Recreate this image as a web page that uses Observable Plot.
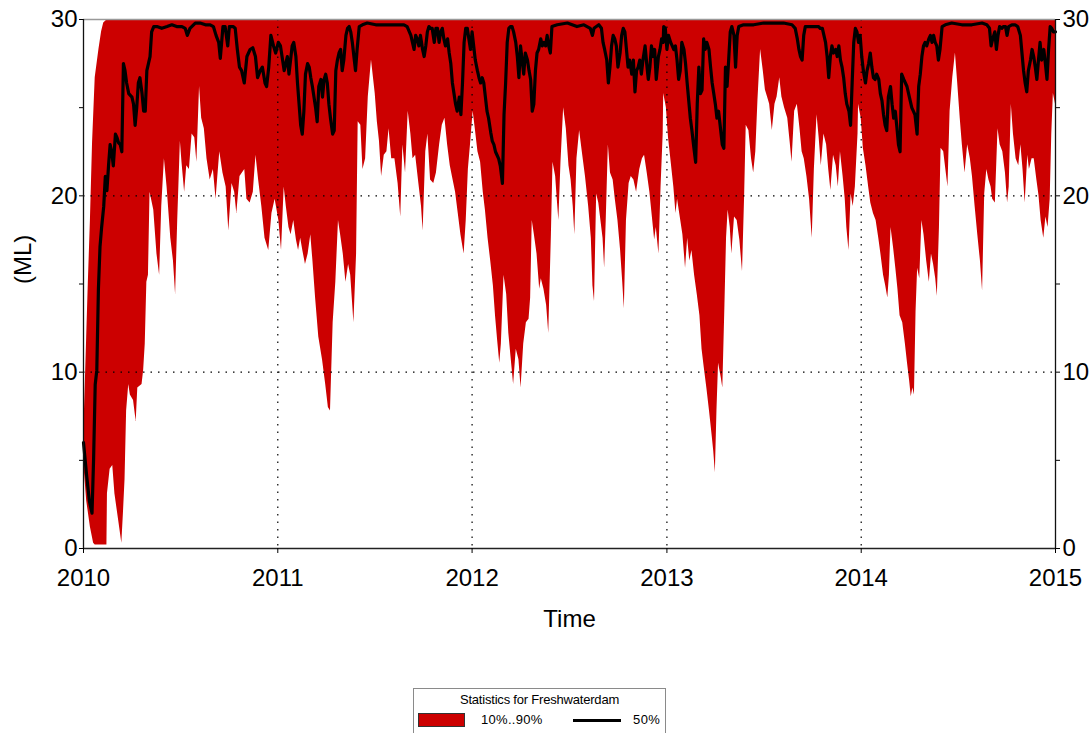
<!DOCTYPE html>
<html>
<head>
<meta charset="utf-8">
<script src="https://cdn.jsdelivr.net/npm/d3@7"></script>
<script src="https://cdn.jsdelivr.net/npm/@observablehq/plot@0.6"></script>
<style>
  html, body { margin: 0; padding: 0; background: #fff; }
  #wrap { position: relative; width: 1090px; height: 733px; overflow: hidden; font-family: "Liberation Sans", Arial, sans-serif; }
  #legend { position: absolute; left: 413px; top: 688px; width: 251px; height: 52px; border: 1px solid #8a8a8a; background: #fff; }
  #legend .title { position: absolute; left: 0; width: 100%; top: 3px; text-align: center; font-size: 13px; letter-spacing: -0.2px; color: #000; }
  #legend .sw { position: absolute; left: 4px; top: 24px; width: 47px; height: 14px; background: #cc0000; border: 1px solid #333; box-sizing: border-box; }
  #legend .l1 { position: absolute; left: 67px; top: 23px; font-size: 13px; letter-spacing: 0.3px; color: #000; }
  #legend .ln { position: absolute; left: 159px; top: 30px; width: 48px; height: 3px; background: #000; }
  #legend .l2 { position: absolute; left: 219px; top: 23px; font-size: 13px; letter-spacing: 0.4px; color: #000; }
</style>
</head>
<body>
<div id="wrap">
  <div id="chart"></div>
  <div id="legend">
    <div class="title">Statistics for Freshwaterdam</div>
    <div class="sw"></div><div class="l1">10%..90%</div>
    <div class="ln"></div><div class="l2">50%</div>
  </div>
</div>
<script>
// Days since 2010-01-01, value in ML
const bandUpper = [[0,6.2],[2,8],[4,10],[6,12],[9,15],[13,18.6],[17,23],[22,26.7],[29,28.3],[34,29.3],[38,29.8],[45,30],[1826,30]];

const bandLower = [
[0,5.0],[6,2.7],[13,1.2],[19,0.3],[22,0.2],[44,0.2],[45,3.1],[50,4.5],[55,4.7],[59,3.1],[66,1.6],[72,0.3],[75,2.0],[78,3.9],[81,7.8],[85,9.3],[88,8.7],[94,8.4],[99,7.2],[102,9.1],[110,9.3],[113,10.1],[116,11.6],[119,15.1],[122,15.5],[125,20.2],[132,19.2],[138,16.7],[143,15.5],[147,19.4],[152,22.1],[157,20.5],[164,17.6],[169,16.3],[173,14.4],[177,18.6],[182,23.1],[185,21.9],[190,20.2],[194,21.7],[199,21.5],[204,23.5],[209,23.3],[213,21.9],[218,26.2],[222,24.4],[227,23.8],[232,22.1],[238,20.9],[244,21.5],[249,19.8],[256,22.5],[262,21.3],[268,20.5],[273,18.0],[279,20.7],[284,20.2],[288,19.0],[294,21.1],[303,21.5],[307,19.8],[313,19.6],[319,20.2],[324,22.3],[329,20.9],[335,19.4],[341,17.6],[348,16.9],[354,19.0],[360,19.8],
[367,18.6],[372,16.9],[377,20.5],[381,19.4],[386,18.2],[390,17.8],[395,18.6],[400,17.5],[404,16.9],[408,17.6],[412,16.9],[417,16.1],[422,16.7],[427,17.8],[431,16.3],[436,14.2],[442,12.0],[449,10.7],[455,9.3],[460,8.0],[464,7.8],[469,12.8],[474,15.1],[479,18.6],[483,17.8],[488,16.7],[493,15.1],[498,16.1],[502,15.5],[508,12.8],[513,16.7],[516,24.2],[521,24.0],[525,21.5],[530,22.1],[535,25.6],[541,27.7],[548,25.8],[552,24.2],[556,23.1],[560,21.1],[565,22.3],[570,22.5],[574,23.8],[579,22.1],[585,22.1],[591,20.7],[596,18.8],[600,22.9],[605,21.3],[610,24.8],[615,23.5],[619,22.1],[624,22.3],[630,20.7],[635,19.4],[638,18.0],[643,22.5],[647,23.5],[652,20.9],[658,20.7],[663,21.3],[669,22.9],[674,24.0],[679,24.4],[684,22.9],[689,21.7],[693,21.1],[699,20.2],[704,19.0],[709,17.8],[715,16.7],[719,18.6],[723,21.5],[727,22.9],
[732,24.8],[736,23.8],[741,22.5],[746,21.9],[751,20.2],[755,19.2],[760,17.6],[765,16.3],[770,14.9],[774,13.2],[778,11.8],[782,10.5],[785,11.6],[790,15.5],[795,14.4],[799,12.2],[803,10.9],[808,9.3],[813,11.3],[818,10.7],[822,9.1],[827,11.6],[832,12.8],[837,13.0],[840,14.2],[843,18.6],[847,17.8],[852,16.7],[857,14.7],[860,15.3],[865,14.7],[870,13.8],[874,12.2],[879,17.8],[882,21.9],[887,21.1],[890,19.8],[893,18.6],[897,21.9],[902,25.0],[907,23.8],[912,21.7],[916,20.9],[920,19.4],[923,17.8],[927,22.1],[932,23.7],[937,22.5],[943,21.1],[949,19.4],[954,17.6],[957,14.9],[960,14.0],[964,20.1],[968,19.6],[972,18.6],[976,17.6],[979,15.9],[982,18.6],[986,22.9],[990,21.3],[995,20.9],[999,19.8],[1004,18.6],[1009,16.9],[1013,15.1],[1016,13.6],[1020,18.6],[1025,20.7],[1029,21.1],[1034,20.9],[1039,20.2],[1045,21.5],[1050,22.1],[1054,22.3],[1059,21.3],[1064,20.2],[1068,19.0],[1073,17.5],[1076,18.2],[1081,16.7],[1085,20.5],[1089,23.5],
[1090,25.8],[1095,25.0],[1099,23.3],[1104,21.9],[1109,20.5],[1113,19.0],[1116,19.8],[1121,18.8],[1126,17.8],[1131,15.9],[1135,17.6],[1139,16.3],[1143,16.9],[1148,15.5],[1153,14.4],[1158,13.2],[1162,11.3],[1166,10.3],[1171,9.1],[1176,7.8],[1181,6.4],[1184,5.5],[1187,4.3],[1190,7.8],[1193,10.5],[1198,9.7],[1201,9.1],[1205,13.8],[1208,17.6],[1211,19.2],[1215,18.2],[1218,16.7],[1223,18.8],[1228,18.6],[1233,17.5],[1238,15.7],[1242,20.0],[1245,24.0],[1250,23.7],[1255,22.1],[1259,21.3],[1263,22.5],[1267,25.4],[1272,28.3],[1277,27.1],[1281,26.0],[1285,25.6],[1289,25.2],[1294,23.7],[1299,25.2],[1303,25.6],[1308,26.7],[1312,25.6],[1317,25.0],[1323,24.4],[1328,22.9],[1331,21.9],[1336,24.8],[1341,25.2],[1346,23.8],[1350,22.5],[1354,22.1],[1359,21.1],[1364,19.8],[1369,17.6],[1373,21.5],[1378,24.6],[1382,23.3],[1386,21.7],[1391,23.5],[1396,22.9],[1400,21.5],[1404,20.3],[1409,22.3],[1414,21.7],[1418,20.5],[1422,22.5],[1427,21.1],[1431,19.8],[1434,18.2],[1438,16.9],[1442,20.1],[1446,19.4],[1450,20.5],[1455,23.5],
[1456,25.2],[1461,24.4],[1465,22.7],[1470,21.7],[1475,20.5],[1479,19.6],[1484,19.0],[1489,18.6],[1494,17.6],[1498,16.7],[1503,15.5],[1507,14.9],[1511,14.2],[1514,15.5],[1517,18.2],[1522,17.0],[1526,15.9],[1530,14.7],[1534,13.2],[1539,12.8],[1544,11.6],[1548,10.5],[1552,9.5],[1555,8.6],[1558,9.1],[1561,8.7],[1564,13.4],[1567,15.9],[1571,15.3],[1575,18.6],[1579,17.8],[1584,16.3],[1589,15.1],[1593,16.7],[1597,16.1],[1601,15.3],[1604,14.3],[1608,18.2],[1611,22.7],[1616,22.5],[1620,21.5],[1624,20.5],[1628,24.8],[1633,26.7],[1638,28.1],[1642,26.5],[1647,24.4],[1651,22.9],[1656,21.3],[1661,22.9],[1666,22.1],[1670,21.1],[1675,19.4],[1680,17.8],[1685,16.3],[1689,14.6],[1693,20.1],[1697,21.5],[1701,20.9],[1705,20.5],[1708,19.8],[1713,19.6],[1718,23.8],[1722,22.9],[1727,22.5],[1732,21.3],[1736,19.6],[1739,20.5],[1743,25.2],[1747,23.5],[1752,22.1],[1757,21.7],[1761,22.9],[1765,21.5],[1769,19.6],[1774,22.3],[1777,21.5],[1782,22.1],[1786,22.1],[1791,20.9],[1795,20.0],[1799,18.6],[1804,17.6],[1808,18.8],[1812,18.2],[1816,19.8],[1819,23.5],[1822,25.8],[1826,25.2]
];

const median50 = [
[0,6.0],[6,4.1],[11,2.7],[16,2.0],[19,5.1],[22,9.3],[25,10.1],[28,14.7],[31,17.1],[34,18.2],[38,19.4],[41,21.1],[44,20.3],[47,21.7],[50,22.9],[53,22.5],[56,21.7],[60,23.5],[63,23.3],[66,23.0],[69,22.9],[72,22.5],[75,27.5],[78,27.1],[81,26.4],[85,25.8],[91,25.6],[94,25.2],[97,24.0],[100,25.0],[103,26.4],[106,26.7],[110,25.8],[113,24.8],[116,24.8],[119,27.1],[122,27.5],[125,27.9],[128,29.3],[132,29.6],[138,29.6],[147,29.5],[157,29.6],[166,29.7],[175,29.6],[185,29.6],[191,29.5],[195,29.1],[200,29.5],[210,29.8],[219,29.8],[229,29.7],[238,29.7],[244,29.6],[249,29.1],[254,28.7],[257,27.8],[262,29.6],[266,29.6],[271,28.5],[274,29.6],[281,29.6],[285,29.5],[289,28.3],[293,27.3],[297,27.1],[302,26.4],[307,27.9],[313,28.3],[318,28.4],[323,27.9],[327,26.7],[332,27.1],[336,27.3],[341,26.4],[344,26.2],[348,27.3],[352,29.1],[357,28.5],
[361,28.1],[366,28.7],[370,28.5],[374,27.7],[377,27.1],[380,27.5],[383,27.9],[386,26.9],[389,27.7],[392,28.5],[395,28.7],[399,27.9],[402,26.4],[405,25.2],[408,24.0],[411,23.5],[414,24.8],[417,26.9],[421,27.5],[424,27.3],[427,26.7],[430,26.2],[433,25.6],[436,25.0],[439,24.2],[442,26.2],[446,26.6],[449,25.6],[452,26.6],[455,26.9],[458,26.4],[461,25.2],[464,24.4],[468,23.5],[471,23.7],[474,27.1],[477,27.7],[480,28.1],[483,28.3],[486,27.1],[489,27.7],[493,29.1],[496,29.5],[499,29.6],[502,29.3],[505,28.7],[508,27.9],[511,27.1],[514,28.3],[518,29.6],[524,29.7],[533,29.8],[549,29.7],[568,29.7],[587,29.7],[602,29.7],[608,29.6],[615,29.1],[618,28.7],[621,28.3],[624,29.1],[627,28.9],[630,28.5],[633,29.1],[637,28.3],[640,27.9],[643,28.5],[646,29.3],[649,29.6],[652,29.5],[655,29.5],[659,28.7],[662,29.5],[665,29.5],[668,28.7],[671,29.3],[674,29.5],[677,28.9],[680,28.5],[684,28.9],[687,28.1],[690,27.5],[693,26.4],[696,25.8],[699,25.2],[702,24.8],[706,25.6],[709,24.6],[712,26.4],[715,28.7],[718,29.5],[721,29.5],[724,28.9],[727,28.3],
[730,29.3],[733,28.5],[736,27.7],[740,27.1],[743,26.7],[746,26.4],[749,26.7],[752,26.4],[755,25.6],[758,24.8],[761,24.4],[765,23.6],[768,23.1],[771,22.9],[774,22.5],[777,22.3],[780,22.1],[783,21.7],[787,20.7],[790,24.6],[793,26.4],[796,28.7],[799,29.5],[802,29.6],[805,29.6],[808,29.3],[812,28.7],[815,27.9],[818,26.7],[821,28.5],[824,27.7],[827,26.9],[830,28.1],[834,27.7],[837,27.1],[840,26.6],[843,24.8],[846,25.2],[849,27.1],[852,28.1],[855,28.3],[859,28.9],[862,28.5],[865,28.7],[868,28.5],[871,29.1],[874,28.5],[877,28.1],[880,29.6],[890,29.7],[909,29.8],[927,29.6],[940,29.7],[952,29.5],[956,29.1],[959,29.5],[968,29.7],[973,29.5],[976,28.7],[979,28.3],[983,27.7],[986,26.4],[989,27.3],[992,28.5],[995,29.1],[998,28.9],[1001,28.5],[1004,27.3],[1008,28.1],[1011,29.1],[1014,29.5],[1017,29.3],[1020,28.3],[1023,27.3],[1026,27.7],[1030,26.9],[1033,27.7],[1036,25.9],[1039,27.1],[1042,27.3],[1045,27.7],[1048,26.9],[1051,27.7],[1055,28.5],[1058,27.5],[1061,26.6],[1064,27.3],[1067,28.5],[1070,27.9],[1073,28.3],[1076,26.6],[1080,27.9],[1083,28.3],[1086,28.9],[1089,28.7],
[1090,29.6],[1093,29.5],[1096,28.3],[1099,29.1],[1103,28.7],[1106,28.5],[1109,28.3],[1112,28.5],[1115,27.7],[1118,26.6],[1121,27.1],[1124,28.7],[1128,28.3],[1131,27.5],[1134,26.4],[1137,25.4],[1140,24.4],[1143,23.7],[1146,22.9],[1150,21.9],[1153,25.2],[1156,27.3],[1159,25.8],[1162,26.0],[1165,28.9],[1168,28.3],[1171,28.7],[1175,28.3],[1178,27.3],[1181,26.4],[1184,25.8],[1187,25.2],[1190,24.4],[1193,24.8],[1196,24.0],[1200,22.9],[1203,22.7],[1206,27.3],[1209,26.2],[1212,27.7],[1215,29.3],[1218,29.6],[1222,29.1],[1225,27.3],[1228,29.1],[1231,29.6],[1240,29.7],[1259,29.7],[1278,29.8],[1297,29.8],[1315,29.8],[1331,29.7],[1337,29.5],[1341,28.9],[1344,28.3],[1347,27.9],[1350,27.7],[1353,29.1],[1356,29.6],[1366,29.6],[1375,29.6],[1381,29.6],[1384,29.5],[1388,29.5],[1391,29.1],[1394,28.7],[1397,27.9],[1400,26.7],[1403,27.9],[1406,28.5],[1409,28.1],[1413,28.3],[1416,27.9],[1419,28.5],[1422,27.7],[1425,27.3],[1428,26.7],[1431,25.8],[1434,25.2],[1438,24.8],[1441,24.0],[1444,26.4],[1447,28.7],[1450,29.5],[1453,29.3],
[1456,28.7],[1459,29.1],[1462,27.9],[1465,27.1],[1469,26.4],[1472,27.1],[1475,27.5],[1478,28.1],[1481,27.3],[1484,26.7],[1487,26.6],[1490,26.9],[1494,26.6],[1497,25.8],[1500,25.4],[1503,24.6],[1506,24.0],[1509,23.7],[1512,25.6],[1516,26.2],[1519,25.2],[1522,24.4],[1525,24.8],[1528,23.9],[1531,22.9],[1534,22.5],[1537,26.9],[1541,26.6],[1544,26.4],[1547,26.2],[1550,25.8],[1553,25.4],[1556,25.0],[1559,24.8],[1562,24.6],[1566,23.5],[1569,26.2],[1572,26.9],[1575,27.9],[1578,28.5],[1581,28.7],[1584,28.5],[1588,28.9],[1591,29.1],[1594,28.7],[1597,29.1],[1600,28.7],[1603,28.5],[1606,27.7],[1609,28.3],[1613,29.6],[1619,29.7],[1631,29.8],[1650,29.7],[1669,29.7],[1688,29.8],[1697,29.7],[1702,29.5],[1705,28.5],[1708,28.9],[1712,29.3],[1715,28.3],[1718,29.1],[1721,29.6],[1725,29.5],[1728,29.6],[1732,29.6],[1735,29.1],[1738,29.6],[1744,29.7],[1750,29.7],[1755,29.6],[1760,29.1],[1763,28.1],[1766,27.1],[1769,26.4],[1772,25.9],[1775,27.1],[1779,27.7],[1782,28.3],[1785,27.9],[1788,27.3],[1791,26.6],[1794,27.7],[1797,28.7],[1800,27.7],[1804,28.3],[1807,27.5],[1810,26.6],[1813,28.3],[1816,29.6],[1819,29.5],[1822,29.3],[1826,29.3]
];

const yearTicks = [2010, 2011, 2012, 2013, 2014, 2015];
const gridYears = [2011, 2012, 2013, 2014];
const yMajor = [0, 10, 20, 30];
const yMinor = [5, 15, 25];
const yGrid = [10, 20];

const t0 = Date.UTC(2010, 0, 1);
const toDate = d => new Date(t0 + d * 864e5);
const yr = y => new Date(Date.UTC(y, 0, 1));

const upper = bandUpper.map(([d, v]) => ({date: toDate(d), v}));
const lower = bandLower.map(([d, v]) => ({date: toDate(d), v}));
const med = median50.map(([d, v]) => ({date: toDate(d), v}));

const RED = "#cc0000";
const dots = "1.5,6";

const chart = Plot.plot({
  width: 1090,
  height: 640,
  marginTop: 19,
  marginBottom: 92,
  marginLeft: 83,
  marginRight: 35,
  style: {fontFamily: "'Liberation Sans', Arial, sans-serif", color: "#000", background: "#fff", overflow: "visible"},
  x: {type: "utc", domain: [yr(2010), yr(2015)]},
  y: {domain: [0, 30]},
  marks: [
    Plot.areaY(upper, {x: "date", y: "v", fill: RED}),
    Plot.areaY(lower, {x: "date", y: "v", fill: "#fff"}),
    Plot.ruleX(gridYears.map(yr), {stroke: "#000", strokeWidth: 1.2, strokeDasharray: dots}),
    Plot.ruleY(yGrid, {stroke: "#000", strokeWidth: 1.2, strokeDasharray: dots}),
    Plot.lineY(med, {x: "date", y: "v", stroke: "#000", strokeWidth: 3.2, strokeLinejoin: "round"}),
    Plot.ruleY([30], {stroke: "#999", strokeWidth: 1.5}),
    Plot.ruleY([0], {stroke: "#222", strokeWidth: 1.3}),
    Plot.ruleX([yr(2010), yr(2015)], {stroke: "#111", strokeWidth: 1.3}),
    Plot.axisX({ticks: yearTicks.map(yr), tickFormat: d3.utcFormat("%Y"), tickSize: 5, tickPadding: 15, fontSize: 24, label: null}),
    Plot.axisY({anchor: "left", ticks: yMajor, tickSize: 4, tickPadding: 2, fontSize: 24, label: null}),
    Plot.axisY({anchor: "right", ticks: yMajor, tickSize: 4, tickPadding: 3, fontSize: 24, label: null}),
    Plot.axisY({anchor: "left", ticks: yMinor, tickSize: 4, tickFormat: () => "", label: null}),
    Plot.axisY({anchor: "right", ticks: yMinor, tickSize: 4, tickFormat: () => "", label: null}),
    Plot.text(["Time"], {frameAnchor: "bottom", dy: 78, fontSize: 24, fill: "#000"}),
    Plot.text(["(ML)"], {frameAnchor: "left", dx: -60, rotate: -90, fontSize: 24, fill: "#000"})
  ]
});
document.getElementById("chart").appendChild(chart);
</script>
</body>
</html>
